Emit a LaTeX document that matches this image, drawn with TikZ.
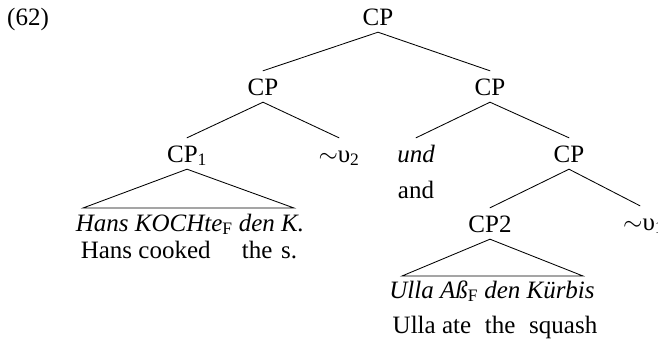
\documentclass[tikz,border=0pt]{standalone}
\usepackage{fontspec}
\setmainfont{Liberation Serif}
\begin{document}
\begin{tikzpicture}[x=1pt,y=-1pt,
  lab/.style={anchor=base,inner xsep=0pt,inner ysep=7pt,text height=17pt,text depth=0pt,font=\fontsize{25}{29}\selectfont},
  edge/.style={line width=0.85pt,line cap=round}]
\useasboundingbox (0,0) rectangle (658,340);
\node[lab,anchor=base west] (ex) at (7,25) {(62)};
\node[lab] (root) at (378,25) {CP};
\node[lab] (l) at (263,95) {CP};
\node[lab] (r) at (490,95) {CP};
\node[lab] (cp1) at (187,162) {CP\textsubscript{1}};
\node[lab] (v2) at (339,162) {$\sim$υ\textsubscript{2}};
\node[lab] (und) at (416,162) {\itshape und};
\node[lab] (and) at (416,198) {and};
\node[lab] (cpr) at (569,162) {CP};
\node[lab] (cp2) at (490,232) {CP2};
\node[lab,anchor=base west] (v1) at (623,230) {$\sim$υ\textsubscript{1}};
\node[lab] (hk) at (190,231) {\itshape Hans KOCHte\textsubscript{\upshape F} den K.};
\node[lab] (hc) at (189,258) {Hans cooked\hspace{1em} the\hspace{0.35em}s.};
\node[lab] (ua) at (492,298) {\itshape Ulla Aß\textsubscript{\upshape F} den Kürbis};
\node[lab] (ue) at (495,333) {Ulla ate\hspace{0.3em} the\hspace{0.3em} squash};
\draw[edge] (root.south) -- (l.north);
\draw[edge] (root.south) -- (r.north);
\draw[edge] (l.south) -- (cp1.north);
\draw[edge] (l.south) -- (v2.north);
\draw[edge] (r.south) -- (und.north);
\draw[edge] (r.south) -- (cpr.north);
\draw[edge] (cpr.south) -- (cp2.north);
\draw[edge] (cpr.south) -- ([xshift=17pt]v1.north west);
\coordinate (hkl) at (83,208);
\coordinate (hkr) at (294,208);
\draw[edge] (hkl) -- (cp1.south) -- (hkr) -- cycle;
\coordinate (ual) at (402,276);
\coordinate (uar) at (583,276);
\draw[edge] (ual) -- (cp2.south) -- (uar) -- cycle;
\end{tikzpicture}
\end{document}
